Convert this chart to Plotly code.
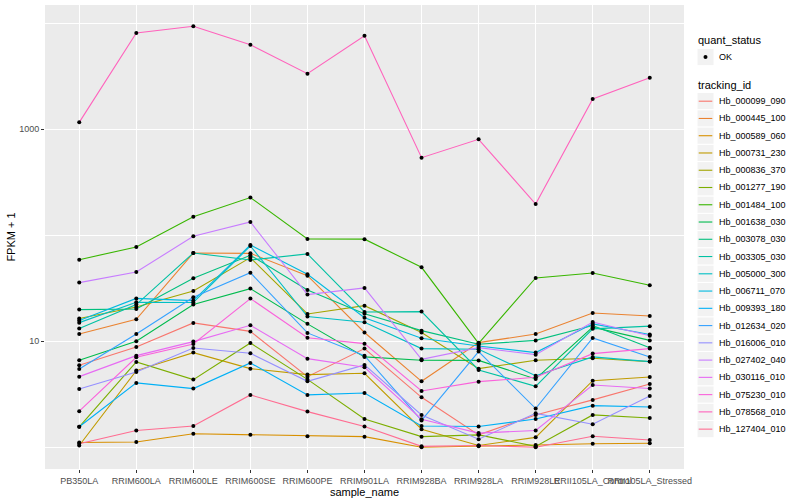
import plotly.graph_objects as go

categories = ["PB350LA", "RRIM600LA", "RRIM600LE", "RRIM600SE", "RRIM600PE",
              "RRIM901LA", "RRIM928BA", "RRIM928LA", "RRIM928LE",
              "RRII105LA_Control", "RRII105LA_Stressed"]

tracking_ids = ["Hb_000099_090", "Hb_000445_100", "Hb_000589_060", "Hb_000731_230",
                "Hb_000836_370", "Hb_001277_190", "Hb_001484_100", "Hb_001638_030",
                "Hb_003078_030", "Hb_003305_030", "Hb_005000_300", "Hb_006711_070",
                "Hb_009393_180", "Hb_012634_020", "Hb_016006_010", "Hb_027402_040",
                "Hb_030116_010", "Hb_075230_010", "Hb_078568_010", "Hb_127404_010"]

colors = ["#F8766D", "#EA8331", "#D89000", "#C09B00", "#A3A500", "#7CAE00", "#39B600",
          "#00BB4E", "#00BF7D", "#00C1A3", "#00BFC4", "#00BAE0", "#00B0F6", "#35A2FF",
          "#9590FF", "#C77CFF", "#E76BF3", "#FA62DB", "#FF62BC", "#FF6C91"]

# FPKM + 1 per sample, in category order
Hb_000099_090 = [5.94, 8.84, 14.9, 12.4, 4.64, 8.53, 2.96, 1.31, 2.02, 2.80, 3.96]
Hb_000445_100 = [11.7, 16.1, 68.1, 67.6, 41.6, 12.1, 4.19, 9.71, 11.7, 18.5, 17.3]
Hb_000589_060 = [1.11, 1.12, 1.34, 1.31, 1.27, 1.26, 1.00, 1.02, 1.05, 1.08, 1.09]
Hb_000731_230 = [1.04, 5.29, 7.82, 5.52, 4.85, 4.99, 1.48, 1.04, 1.24, 4.25, 4.61]
Hb_000836_370 = [16.4, 21.1, 29.8, 61.6, 18.1, 21.7, 12.1, 5.52, 6.62, 6.91, 6.43]
Hb_001277_190 = [1.56, 6.38, 4.35, 9.64, 4.37, 1.85, 1.26, 1.31, 1.02, 2.02, 1.89]
Hb_001484_100 = [58.9, 77.6, 150.0, 227.0, 92.4, 92.0, 49.9, 9.57, 39.6, 44.1, 33.8]
Hb_001638_030 = [6.62, 10.0, 22.2, 31.4, 14.6, 7.12, 6.62, 6.60, 4.41, 13.6, 10.2]
Hb_003078_030 = [19.9, 20.2, 39.3, 64.8, 30.5, 18.2, 12.6, 9.37, 10.2, 14.1, 8.71]
Hb_003305_030 = [13.2, 22.2, 68.1, 58.5, 66.7, 18.9, 19.05, 5.37, 3.76, 13.1, 13.9]
Hb_005000_300 = [15.0, 23.3, 23.2, 79.3, 17.1, 15.1, 8.53, 8.40, 4.74, 7.12, 6.43]
Hb_006711_070 = [15.7, 25.4, 24.2, 81.0, 42.9, 16.7, 10.7, 9.04, 7.82, 14.6, 11.6]
Hb_009393_180 = [1.56, 4.05, 3.58, 6.25, 3.12, 3.25, 1.59, 1.57, 1.85, 2.47, 2.40]
Hb_012634_020 = [5.48, 11.7, 26.0, 44.4, 12.0, 7.32, 1.79, 7.99, 2.32, 10.75, 7.12]
Hb_016006_010 = [3.55, 5.14, 8.65, 7.70, 4.19, 5.98, 2.02, 1.19, 2.09, 1.65, 3.05]
Hb_027402_040 = [35.8, 45.1, 97.9, 133.6, 27.6, 31.9, 6.76, 8.71, 7.48, 15.2, 11.3]
Hb_030116_010 = [4.64, 7.32, 9.93, 14.15, 6.86, 5.69, 1.84, 1.36, 1.44, 3.87, 3.58]
Hb_075230_010 = [2.19, 7.07, 9.44, 25.3, 10.8, 9.50, 3.40, 4.16, 4.57, 7.65, 8.53]
Hb_078568_010 = [1164, 8110, 9380, 6280, 3350, 7640, 540, 805, 197, 1930, 3070]
Hb_127404_010 = [1.08, 1.44, 1.59, 3.12, 2.17, 1.57, 1.02, 1.04, 1.00, 1.27, 1.17]

series = [Hb_000099_090, Hb_000445_100, Hb_000589_060, Hb_000731_230, Hb_000836_370,
          Hb_001277_190, Hb_001484_100, Hb_001638_030, Hb_003078_030, Hb_003305_030,
          Hb_005000_300, Hb_006711_070, Hb_009393_180, Hb_012634_020, Hb_016006_010,
          Hb_027402_040, Hb_030116_010, Hb_075230_010, Hb_078568_010, Hb_127404_010]

quant_status = ["OK"]

y_tick_vals = [10, 1000]
y_tick_text = ["10", "1000"]
y_minor_vals = [1, 100, 10000]

# ---- layout geometry (pixels) ----
W, H = 800, 500
L, R, T, B = 45, 684, 5, 469


def px(x):
    return (x - L) / (R - L)


def py(y):
    return (B - y) / (B - T)


fig = go.Figure()
for tid, col, vals in zip(tracking_ids, colors, series):
    fig.add_trace(go.Scatter(
        x=categories, y=vals, mode="lines", name=tid,
        line=dict(color=col, width=1.1), showlegend=False, hoverinfo="skip"))

all_x = [c for s in series for c in categories]
all_y = [v for s in series for v in s]
fig.add_trace(go.Scatter(
    x=all_x, y=all_y, mode="markers", name=quant_status[0],
    marker=dict(color="black", size=4), showlegend=False))

# ---- ggplot-like legend built from annotations and shapes ----
shapes = []
annotations = []
key_x0, key_x1 = 697, 714
text_x = 717
title_x = 696
key_h = 17.26


def add_key(cy):
    shapes.append(dict(type="rect", xref="paper", yref="paper",
                       x0=px(key_x0), x1=px(key_x1),
                       y0=py(cy - key_h / 2), y1=py(cy + key_h / 2),
                       fillcolor="#F2F2F2", line=dict(color="white", width=1),
                       layer="above"))


def add_text(x, cy, text, size, color="black"):
    annotations.append(dict(xref="paper", yref="paper", x=px(x), y=py(cy),
                            xanchor="left", yanchor="middle", showarrow=False,
                            text=text, font=dict(size=size, color=color)))


add_text(title_x, 40.5, "quant_status", 11)
ok_y = 57
add_key(ok_y)
shapes.append(dict(type="circle", xref="paper", yref="paper",
                   x0=px(703.5), x1=px(707.5), y0=py(ok_y + 2), y1=py(ok_y - 2),
                   fillcolor="black", line=dict(color="black", width=0), layer="above"))
add_text(text_x, ok_y, quant_status[0], 9)

add_text(title_x, 84.5, "tracking_id", 11)
first_y = 101.2
for i, (tid, col) in enumerate(zip(tracking_ids, colors)):
    cy = first_y + key_h * i
    add_key(cy)
    shapes.append(dict(type="line", xref="paper", yref="paper",
                       x0=px(key_x0 + 1.7), x1=px(key_x1 - 1.7), y0=py(cy), y1=py(cy),
                       line=dict(color=col, width=1.1), layer="above"))
    add_text(text_x, cy, tid, 9)

fig.update_layout(
    width=W, height=H,
    margin=dict(l=L, r=W - R, t=T, b=H - B),
    paper_bgcolor="white", plot_bgcolor="#EBEBEB",
    font=dict(family="Liberation Sans, Arial, sans-serif", size=11, color="black"),
    showlegend=False,
    shapes=shapes, annotations=annotations,
    xaxis=dict(type="category", categoryorder="array", categoryarray=categories,
               range=[-0.6, 10.6], showgrid=True, gridcolor="white", gridwidth=1.1,
               ticks="outside", ticklen=3, tickcolor="#333333", tickwidth=1.1,
               tickangle=0, tickfont=dict(size=9, color="#4D4D4D"),
               title=dict(text="sample_name", font=dict(size=11), standoff=2),
               automargin=False, zeroline=False, showline=False),
    yaxis=dict(type="log", range=[-0.205, 4.173],
               tickmode="array", tickvals=y_tick_vals, ticktext=y_tick_text,
               showgrid=True, gridcolor="white", gridwidth=1.1,
               minor=dict(tickmode="array", tickvals=y_minor_vals, showgrid=True,
                          gridcolor="white", gridwidth=0.55, ticks=""),
               ticks="outside", ticklen=3, tickcolor="#333333", tickwidth=1.1,
               tickfont=dict(size=9, color="#4D4D4D"),
               title=dict(text="FPKM + 1", font=dict(size=11), standoff=1),
               automargin=False, zeroline=False, showline=False),
)

fig.write_html("out.html",
               config={"displayModeBar": False},
               post_script="document.body.style.margin='0';document.body.style.padding='0';")
